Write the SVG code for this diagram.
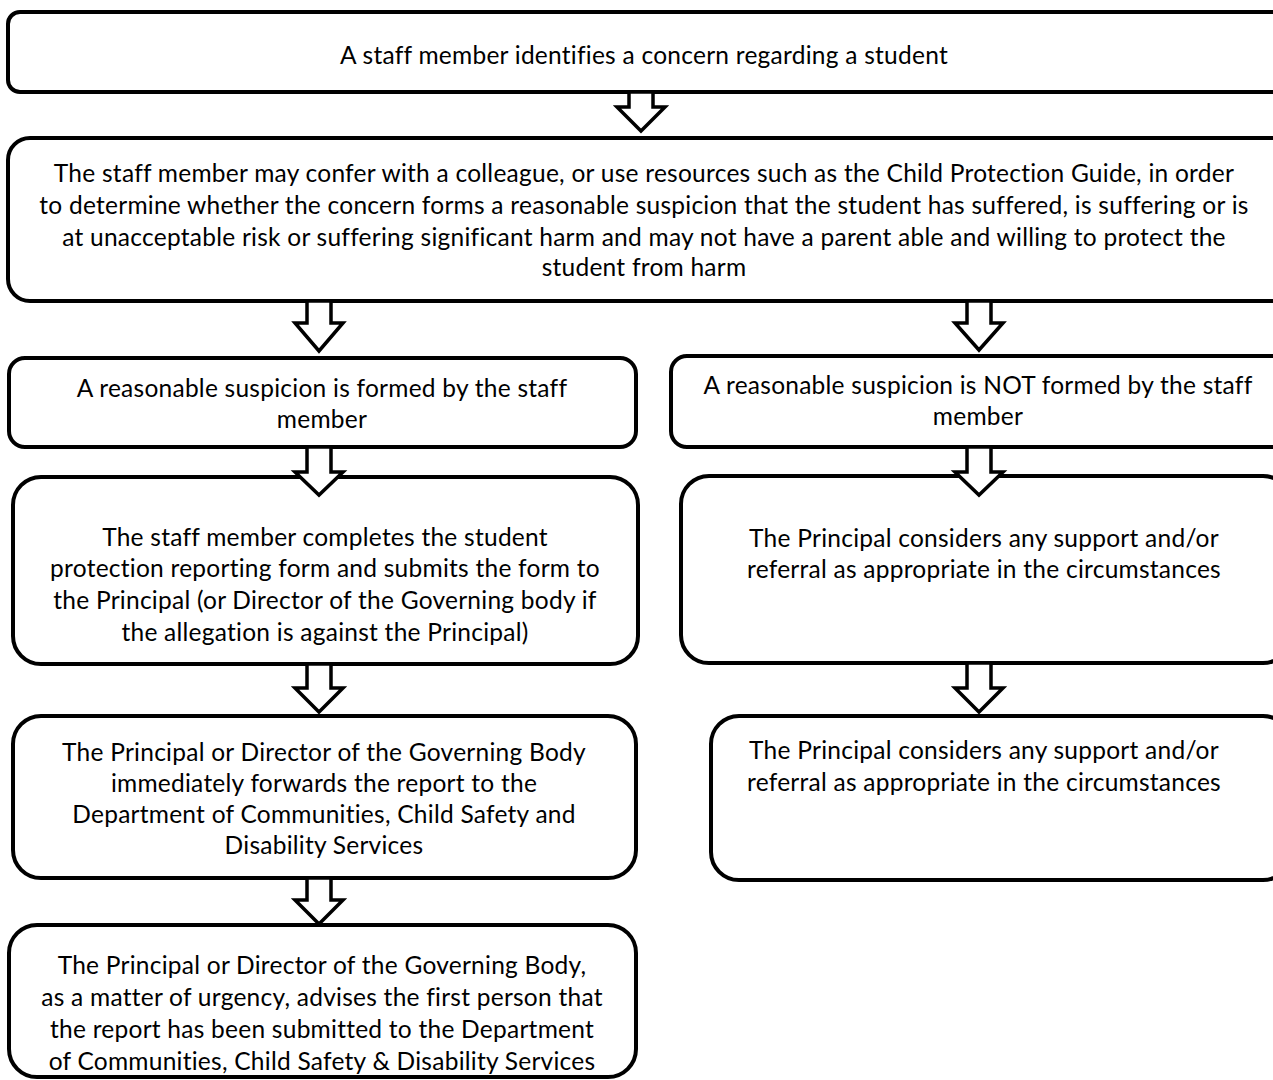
<svg xmlns="http://www.w3.org/2000/svg" width="1273" height="1080" viewBox="0 0 1273 1080">
<style>
.box{fill:#fff;stroke:#000;stroke-width:4}
.arr{fill:#fff;stroke:#000;stroke-width:3.5;stroke-linejoin:miter}
text{font-family:Lato,"Liberation Sans",sans-serif;font-size:24.5px;letter-spacing:0.25px;fill:#000;text-anchor:middle}
</style>
<rect width="1273" height="1080" fill="#fff"/>
<g id="n1"><rect class="box" x="8" y="12" width="1285" height="80" rx="12"/>
<text x="644" y="64">A staff member identifies a concern regarding a student</text></g>
<g id="n2"><rect class="box" x="8" y="138" width="1285" height="163" rx="22"/>
<text x="644" y="182">The staff member may confer with a colleague, or use resources such as the Child Protection Guide, in order</text>
<text x="644" y="214">to determine whether the concern forms a reasonable suspicion that the student has suffered, is suffering or is</text>
<text x="644" y="246">at unacceptable risk or suffering significant harm and may not have a parent able and willing to protect the</text>
<text x="644" y="276">student from harm</text></g>
<g id="n3"><rect class="box" x="9" y="358" width="627" height="89" rx="16"/>
<text x="322" y="397">A reasonable suspicion is formed by the staff</text>
<text x="322" y="428">member</text></g>
<g id="n4"><rect class="box" x="671" y="356" width="620" height="91" rx="16"/>
<text x="978" y="394">A reasonable suspicion is NOT formed by the staff</text>
<text x="978" y="425">member</text></g>
<g id="n5"><rect class="box" x="13" y="477" width="625" height="187" rx="28"/>
<text x="325" y="546">The staff member completes the student</text>
<text x="325" y="577">protection reporting form and submits the form to</text>
<text x="325" y="609">the Principal (or Director of the Governing body if</text>
<text x="325" y="641">the allegation is against the Principal)</text></g>
<g id="n6"><rect class="box" x="681" y="476" width="610" height="187" rx="28"/>
<text x="984" y="547">The Principal considers any support and/or</text>
<text x="984" y="578">referral as appropriate in the circumstances</text></g>
<g id="n7"><rect class="box" x="13" y="716" width="623" height="162" rx="28"/>
<text x="324" y="761">The Principal or Director of the Governing Body</text>
<text x="324" y="792">immediately forwards the report to the</text>
<text x="324" y="823">Department of Communities, Child Safety and</text>
<text x="324" y="854">Disability Services</text></g>
<g id="n8"><rect class="box" x="711" y="716" width="580" height="164" rx="28"/>
<text x="984" y="759">The Principal considers any support and/or</text>
<text x="984" y="791">referral as appropriate in the circumstances</text></g>
<g id="n9"><rect class="box" x="9" y="925" width="627" height="152" rx="28"/>
<text x="322" y="974">The Principal or Director of the Governing Body,</text>
<text x="322" y="1006">as a matter of urgency, advises the first person that</text>
<text x="322" y="1038">the report has been submitted to the Department</text>
<text x="322" y="1070">of Communities, Child Safety &amp; Disability Services</text></g>
<g id="connectors">
<polygon class="arr" points="629,92 653,92 653,107 665,107 641,131 617,107 629,107"/>
<polygon class="arr" points="307,301 331,301 331,323 343,323 319,351 295,323 307,323"/>
<polygon class="arr" points="967,301 991,301 991,323 1003,323 979,350 955,323 967,323"/>
<polygon class="arr" points="307,447 331,447 331,472 343,472 319,495 295,472 307,472"/>
<polygon class="arr" points="967,447 991,447 991,472 1003,472 979,495 955,472 967,472"/>
<polygon class="arr" points="307,664 331,664 331,688 343,688 319,712 295,688 307,688"/>
<polygon class="arr" points="967,663 991,663 991,688 1003,688 979,712 955,688 967,688"/>
<polygon class="arr" points="307,878 331,878 331,900 343,900 319,924 295,900 307,900"/>
</g>
</svg>
